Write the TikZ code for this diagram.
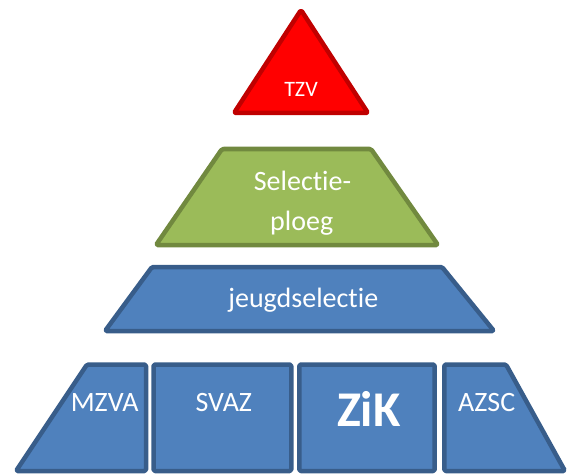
\documentclass[tikz,border=0pt]{standalone}
\usepackage{fontspec}
\setmainfont[Ligatures=NoCommon]{Carlito}
\definecolor{redfill}{HTML}{FF0000}
\definecolor{redline}{HTML}{C00000}
\definecolor{greenfill}{HTML}{9BBB59}
\definecolor{greenline}{HTML}{71893F}
\definecolor{bluefill}{HTML}{4F81BD}
\definecolor{blueline}{HTML}{385D8A}
\tikzset{
  tier/.style={line width=4.5pt, line join=round, rounded corners=1.5pt},
  redtier/.style={tier, fill=redfill, draw=redline},
  greentier/.style={tier, fill=greenfill, draw=greenline},
  bluetier/.style={tier, fill=bluefill, draw=blueline},
  lbl/.style={text=white, anchor=base, inner sep=0pt, font=\fontsize{28}{40}\selectfont, align=center},
}
\begin{document}
\begin{tikzpicture}[x=1pt,y=-1pt]
\useasboundingbox (0,0) rectangle (569,473);
\clip (0,0) rectangle (569,473);
% top triangle
\draw[redtier] (301,10) -- (368,113) -- (234,113) -- cycle;
\node[lbl, font=\fontsize{22}{26}\selectfont] (tzv) at (301,97) {TZV};
% green trapezoid
\draw[greentier] (222,149) -- (371,149) -- (438,245) -- (156,245) -- cycle;
\node[lbl] (sel1) at (302.5,190) {Selectie-};
\node[lbl] (sel2) at (301.7,230) {ploeg};
% blue trapezoid
\draw[bluetier] (152,267) -- (442,267) -- (494,331) -- (105,331) -- cycle;
\node[lbl] (jeugd) at (303.3,307.7) {jeugdselectie};
% bottom row
\draw[bluetier] (87,364.5) -- (146,364.5) -- (146,471) -- (16,471) -- cycle;
\draw[bluetier] (153.5,364.5) rectangle (291.3,471);
\draw[bluetier] (299.3,364.5) rectangle (434.7,471);
\draw[bluetier] (444.3,364.5) -- (506,364.5) -- (565,471) -- (444.3,471) -- cycle;
\node[lbl] (mzva) at (104.7,411.7) {MZVA};
\node[lbl] (svaz) at (223.8,411.7) {SVAZ};
\node[lbl, font=\fontsize{50}{56}\selectfont\bfseries] (zik) at (368.8,426.7) {ZiK};
\node[lbl] (azsc) at (486.7,411) {AZSC};
\end{tikzpicture}
\end{document}
